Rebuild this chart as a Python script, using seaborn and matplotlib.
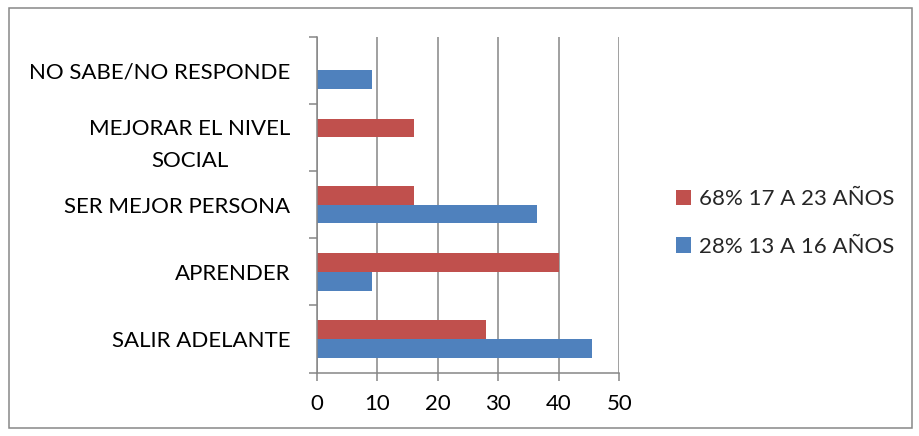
import matplotlib
matplotlib.use("Agg")
import matplotlib.pyplot as plt
import seaborn as sns
import pandas as pd
from matplotlib.patches import Rectangle

categories = ["NO SABE/NO RESPONDE", "MEJORAR EL NIVEL\nSOCIAL", "SER MEJOR PERSONA", "APRENDER", "SALIR ADELANTE"]
series_names = ["68% 17 A 23 AÑOS", "28% 13 A 16 AÑOS"]
values_17_23 = [0, 16, 16, 40, 28]
values_13_16 = [9.09, 0, 36.36, 9.09, 45.45]
x_ticks = [0, 10, 20, 30, 40, 50]

colors = ["#C0504D", "#4F81BD"]

sns.set_theme(style="white")
plt.rcParams["font.family"] = ["Lato", "DejaVu Sans"]

df = pd.DataFrame({
    "categoria": categories * 2,
    "serie": [series_names[0]] * len(categories) + [series_names[1]] * len(categories),
    "valor": values_17_23 + values_13_16,
})

fig = plt.figure(figsize=(9.2, 4.36), dpi=100)
ax = fig.add_axes([0.3442, 0.1452, 0.3290, 0.7707])

sns.barplot(data=df, y="categoria", x="valor", hue="serie", order=categories,
            hue_order=series_names, palette=colors, orient="h", width=0.555,
            ax=ax, saturation=1, edgecolor="none", linewidth=0, errorbar=None)

ax.set_xlim(0, 50)
ax.set_ylim(len(categories) - 0.5, -0.5)
ax.set_xticks(x_ticks)
ax.set_xticklabels([str(t) for t in x_ticks])
ax.set_xlabel("")
ax.set_ylabel("")

grid_c = "#868686"
ax.xaxis.grid(True, color=grid_c, linewidth=1.1)
ax.yaxis.grid(False)
ax.set_axisbelow(True)

for s in ["top", "right"]:
    ax.spines[s].set_visible(False)
for s in ["left", "bottom"]:
    ax.spines[s].set_color(grid_c)
    ax.spines[s].set_linewidth(1.1)

ax.set_yticks([i for i in range(len(categories))])
ax.set_yticklabels(categories, multialignment="center", linespacing=1.75)
ax.set_yticks([i - 0.5 for i in range(len(categories) + 1)], minor=True)
ax.tick_params(axis="y", which="major", length=0, pad=19, labelsize=16, labelcolor="black")
ax.tick_params(axis="y", which="minor", length=6, width=1.1, color=grid_c, direction="out", left=True)
ax.tick_params(axis="x", which="major", length=6, width=1.1, color=grid_c, direction="out",
               bottom=True, pad=9, labelsize=16, labelcolor="black")

handles, labels = ax.get_legend_handles_labels()
ax.legend(handles, labels, loc="center left", bbox_to_anchor=(1.121, 0.446), frameon=False,
          fontsize=16, handlelength=0.68, handleheight=0.68, handletextpad=0.35,
          labelspacing=1.25)

fig.patches.append(Rectangle((9 / 920, 8 / 436), 903 / 920, 420 / 436, transform=fig.transFigure,
                             fill=False, edgecolor="#888888", linewidth=1.1))

fig.savefig("out.png", dpi=100, facecolor="white")
